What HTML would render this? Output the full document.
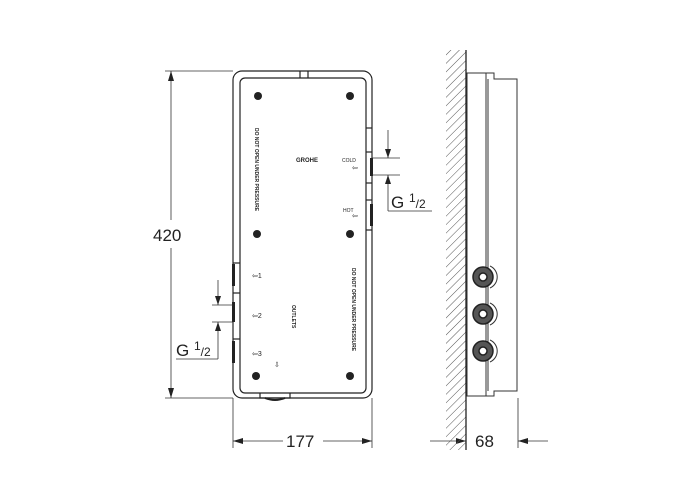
<!DOCTYPE html>
<html><head><meta charset="utf-8"><style>body{margin:0;background:#fff}svg{display:block}</style></head><body>
<svg width="700" height="500" viewBox="0 0 700 500" xmlns="http://www.w3.org/2000/svg" font-family="Liberation Sans, sans-serif">
<defs>
<pattern id="h" width="6" height="6" patternUnits="userSpaceOnUse" patternTransform="rotate(45)"><line x1="0" y1="0" x2="0" y2="6" stroke="#555" stroke-width="1"/></pattern>
</defs>
<g fill="none" stroke="#222" stroke-width="1.2">
<!-- front panel -->
<rect x="233" y="71" width="139" height="327" rx="9"/>
<rect x="240" y="78" width="126" height="315" rx="5"/>
<line x1="300" y1="71" x2="300" y2="78"/><line x1="308" y1="71" x2="308" y2="78"/>
<path d="M260 393v5h30v-5" /><path d="M265 398q10 4 20 0" stroke-width="2"/>
<!-- right tabs -->
<line x1="366" y1="128" x2="372" y2="128"/><line x1="366" y1="152" x2="372" y2="152"/>
<line x1="366" y1="183" x2="372" y2="183"/><line x1="366" y1="200" x2="372" y2="200"/>
<line x1="366" y1="230" x2="372" y2="230"/>
<!-- left tabs -->
<line x1="233" y1="263" x2="240" y2="263"/><line x1="233" y1="293" x2="240" y2="293"/>
<line x1="233" y1="339" x2="240" y2="339"/>
</g>
<g fill="#222">
<rect x="370" y="158" width="3" height="18"/><rect x="370" y="204" width="3" height="22"/>
<rect x="232" y="264" width="3" height="22"/><rect x="232" y="302" width="3" height="20"/><rect x="232" y="341" width="3" height="22"/>
<circle cx="258" cy="96" r="4"/><circle cx="350" cy="96" r="4"/>
<circle cx="257" cy="234" r="4"/><circle cx="350" cy="234" r="4"/>
<circle cx="256" cy="376" r="4"/><circle cx="350" cy="376" r="4"/>
</g>
<g font-size="5" fill="#222">
<text x="296" y="162" font-size="6" font-weight="bold">GROHE</text>
<text transform="translate(255,128) rotate(90)" font-weight="bold">DO NOT OPEN UNDER PRESSURE</text>
<text transform="translate(352,268) rotate(90)" font-weight="bold">DO NOT OPEN UNDER PRESSURE</text>
<text transform="translate(292,305) rotate(90)" font-weight="bold">OUTLETS</text>
<text x="342" y="162">COLD</text><text x="343" y="212">HOT</text>
<text x="252" y="278" font-size="7">⇦1</text><text x="252" y="318" font-size="7">⇦2</text><text x="252" y="356" font-size="7">⇦3</text>
<text x="274" y="367" font-size="7">⇩</text><text x="352" y="170" font-size="7">⇦</text><text x="352" y="218" font-size="7">⇦</text>
</g>
<!-- dims front -->
<g stroke="#333" stroke-width="0.8" fill="none">
<line x1="165" y1="71" x2="233" y2="71"/><line x1="165" y1="398" x2="233" y2="398"/>
<line x1="171" y1="71" x2="171" y2="220"/><line x1="171" y1="248" x2="171" y2="398"/>
<line x1="233" y1="398" x2="233" y2="448"/><line x1="372" y1="398" x2="372" y2="448"/>
<line x1="233" y1="441" x2="283" y2="441"/><line x1="323" y1="441" x2="372" y2="441"/>
<!-- right G -->
<line x1="372" y1="158" x2="400" y2="158"/><line x1="372" y1="175" x2="400" y2="175"/>
<line x1="388" y1="130" x2="388" y2="158"/><line x1="388" y1="175" x2="388" y2="211"/><line x1="388" y1="211" x2="432" y2="211"/>
<!-- left G -->
<line x1="212" y1="305" x2="233" y2="305"/><line x1="212" y1="322" x2="233" y2="322"/>
<line x1="218" y1="280" x2="218" y2="305"/><line x1="218" y1="322" x2="218" y2="359"/><line x1="176" y1="359" x2="218" y2="359"/>
<!-- side dims -->
<line x1="466" y1="448" x2="466" y2="436"/><line x1="518" y1="398" x2="518" y2="448"/>
<line x1="430" y1="441" x2="466" y2="441"/><line x1="518" y1="441" x2="548" y2="441"/>
</g>
<g fill="#222">
<path d="M171 71l-3 10h6z"/><path d="M171 398l-3-10h6z"/>
<path d="M233 441l10-3v6z"/><path d="M372 441l-10-3v6z"/>
<path d="M388 158l-3-9h6z"/><path d="M388 175l-3 9h6z"/>
<path d="M218 305l-3-9h6z"/><path d="M218 322l-3 9h6z"/>
<path d="M466 441l-10-3v6z"/><path d="M518 441l10-3v6z"/>
</g>
<g font-size="17" fill="#222">
<text x="153" y="241">420</text>
<text x="286" y="447">177</text>
<text x="475" y="447">68</text>
<text x="391" y="208">G <tspan font-size="12" dy="-6">1</tspan><tspan font-size="12" dy="6">/2</tspan></text>
<text x="176" y="356">G <tspan font-size="12" dy="-6">1</tspan><tspan font-size="12" dy="6">/2</tspan></text>
</g>
<!-- side view -->
<rect x="446" y="50" width="20" height="400" fill="url(#h)"/>
<line x1="466" y1="50" x2="466" y2="450" stroke="#222" stroke-width="1.3"/>
<g fill="#fff" stroke="#333" stroke-width="1">
<rect x="467" y="73" width="21" height="323"/>
<path d="M486 73h8v6h23v312h-23v5h-8z"/>
<line x1="488" y1="79" x2="488" y2="391"/>
<path d="M490 266a12 12 0 0 1 0 22M490 303a12 12 0 0 1 0 22M490 340a12 12 0 0 1 0 22"/>
</g>
<g stroke="#222" fill="#555">
<circle cx="483" cy="277" r="10" stroke-width="1.5"/><circle cx="483" cy="314" r="10" stroke-width="1.5"/><circle cx="483" cy="351" r="10" stroke-width="1.5"/>
</g>
<g fill="#fff" stroke="#222" stroke-width="1.5">
<circle cx="483" cy="277" r="4"/><circle cx="483" cy="314" r="4"/><circle cx="483" cy="351" r="4"/>
</g>
</svg>
</body></html>
